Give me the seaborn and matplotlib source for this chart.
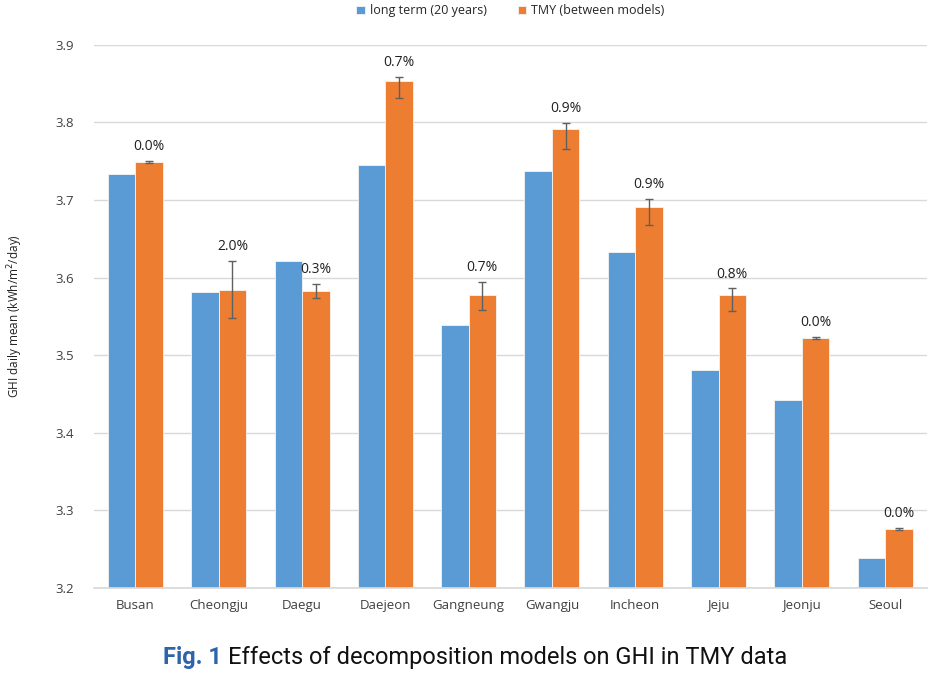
import matplotlib
matplotlib.use("Agg")
import matplotlib.pyplot as plt
import numpy as np
import pandas as pd
import seaborn as sns

# 값은 그림에서 읽은 추정치
cities = ["Busan", "Cheongju", "Daegu", "Daejeon", "Gangneung",
          "Gwangju", "Incheon", "Jeju", "Jeonju", "Seoul"]
long_term = [3.734, 3.582, 3.621, 3.745, 3.539, 3.737, 3.633, 3.481, 3.442, 3.239]
tmy = [3.749, 3.584, 3.583, 3.854, 3.578, 3.792, 3.691, 3.577, 3.522, 3.276]
err_low = [0.001, 0.036, 0.009, 0.022, 0.020, 0.026, 0.023, 0.020, 0.001, 0.001]
err_high = [0.001, 0.037, 0.009, 0.004, 0.016, 0.007, 0.010, 0.009, 0.001, 0.001]
pct_labels = ["0.0%", "2.0%", "0.3%", "0.7%", "0.7%", "0.9%", "0.9%", "0.8%", "0.0%", "0.0%"]
series_names = ["long term (20 years)", "TMY (between models)"]

sns.set_theme(style="white")
plt.rcParams["font.family"] = ["Open Sans", "DejaVu Sans"]

df = pd.DataFrame({
    "city": cities * 2,
    "value": long_term + tmy,
    "series": [series_names[0]] * len(cities) + [series_names[1]] * len(cities),
})

fig = plt.figure(figsize=(9.38, 6.79), dpi=100)
ax = fig.add_axes([0.1, 0.134, 0.888, 0.800])

sns.barplot(data=df, x="city", y="value", hue="series", order=cities,
            hue_order=series_names, palette=["#5B9BD5", "#ED7D31"],
            width=0.66, gap=0, saturation=1, ax=ax, errorbar=None,
            edgecolor="#F4F4F4", linewidth=0.6)

ax.set_xlim(-0.5, len(cities) - 0.5)
ax.set_ylim(3.2, 3.9)
ax.set_yticks(np.arange(3.2, 3.91, 0.1))
ax.set_yticklabels([f"{v:.1f}" for v in np.arange(3.2, 3.91, 0.1)], fontsize=9.5, color="#404040")
ax.tick_params(axis="x", labelsize=9.5, colors="#404040", length=0, pad=8)
ax.tick_params(axis="y", length=0, pad=14)
ax.set_xlabel("")
ax.set_ylabel("GHI daily mean (kWh/m$^2$/day)", fontsize=8.5, color="#202020", labelpad=22)
ax.yaxis.grid(True, color="#D9D9D9", linewidth=1)
ax.set_axisbelow(True)
for s in ["top", "right", "left"]:
    ax.spines[s].set_visible(False)
ax.spines["bottom"].set_color("#D9D9D9")

# 오차 막대와 퍼센트 라벨 (TMY 막대 위)
orange = ax.containers[1]
xs = [p.get_x() + p.get_width() / 2 for p in orange]
ax.errorbar(xs, tmy, yerr=[err_low, err_high], fmt="none", ecolor="#606060",
            elinewidth=1, capsize=3, capthick=1)
for x, y, hi, lab in zip(xs, tmy, err_high, pct_labels):
    ax.annotate(lab, (x, y + hi), xytext=(0, 5), textcoords="offset points",
                ha="center", va="bottom", fontsize=10, color="#202020")

ax.legend(loc="upper center", bbox_to_anchor=(0.5, 1.095), ncol=2, frameon=False,
          fontsize=9, handlelength=0.7, handleheight=0.7, columnspacing=2.5,
          handletextpad=0.4)

cap_font = ["Liberation Sans Narrow", "Roboto", "DejaVu Sans"]
t1 = fig.text(0.174, 0.022, "Fig. 1", fontsize=17, fontweight="bold",
              color="#2E64A8", family=cap_font)
fig.canvas.draw()
bb = t1.get_window_extent()
x2 = fig.transFigure.inverted().transform((bb.x1 + 6, 0))[0]
fig.text(x2, 0.022, "Effects of decomposition models on GHI in TMY data",
         fontsize=17, color="#111111", family=cap_font)

fig.savefig("out.png", dpi=100)
